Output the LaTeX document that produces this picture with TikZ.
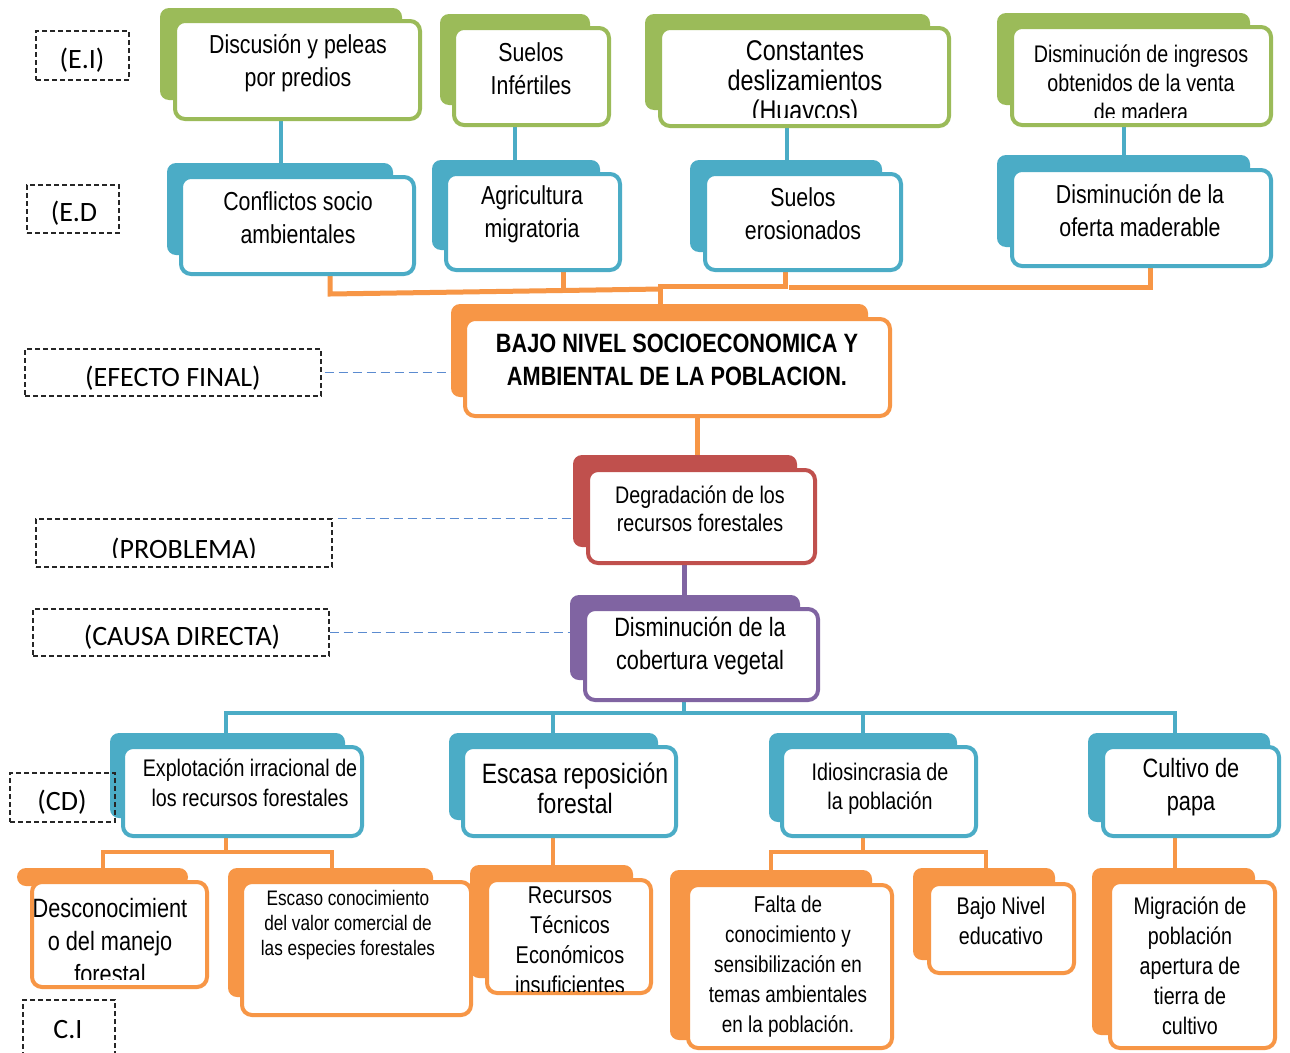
\documentclass[tikz,border=0pt]{standalone}
\usepackage{fontspec}
\setmainfont{Liberation Sans}
\newfontfamily\nf[FakeStretch=0.82]{Liberation Sans}
\newfontfamily\cf{Carlito}
\usetikzlibrary{fit,backgrounds}
\definecolor{cG}{HTML}{9BBB59}
\definecolor{cB}{HTML}{4BACC6}
\definecolor{cO}{HTML}{F79646}
\definecolor{cR}{HTML}{C0504D}
\definecolor{cP}{HTML}{8064A2}
\definecolor{cD}{HTML}{5B8BD0}
\newcommand\fs[2]{\fontsize{#1}{#2}\selectfont}
\tikzset{
  back/.style={fill=#1, rounded corners=9pt},
  front/.style={draw=#1, fill=white, line width=4pt, rounded corners=10pt, inner sep=0pt},
  tx/.style={align=center, inner sep=0pt, text=black, font=#1},
  lt/.style={inner sep=0pt, text=black, font=\cf\fs{28}{30}},
  lab/.style={draw=black!85, line width=1.1pt, dash pattern=on 5pt off 3pt, inner sep=0pt},
  lk/.style={draw=#1, line width=4.5pt},
  dl/.style={draw=cD, line width=1.8pt, dash pattern=on 9pt off 5pt},
}
\newcommand\pbox[4]{\fill[back=#2] #3; \node[front=#2, fit={#4}] (#1) {};}
\begin{document}
\begin{tikzpicture}[x=1pt,y=-1pt]
\useasboundingbox (0,0) rectangle (1290,1052);
\begin{pgfonlayer}{background}
\fill[white] (0,0) rectangle (1290,1052);
\end{pgfonlayer}
% x helper coordinates
\path (281,0) coordinate (k1) (515,0) coordinate (k2) (787,0) coordinate (k3) (1124,0) coordinate (k4)
      (330,0) coordinate (o1) (563,0) coordinate (o2) (785,0) coordinate (o3) (1150,0) coordinate (o4) (660,0) coordinate (o5)
      (697,0) coordinate (m1) (684,0) coordinate (m2)
      (226,0) coordinate (b1) (553,0) coordinate (b2) (863,0) coordinate (b3) (1175,0) coordinate (b4)
      (103,0) coordinate (p1) (332,0) coordinate (p2) (771,0) coordinate (p3) (986,0) coordinate (p4);

% ---------- boxes ----------
\pbox{di}{cG}{(160,8) rectangle (402,100)}{(175,21)(420,119)}
\pbox{su}{cG}{(440,14) rectangle (590,105)}{(454,28)(609,125)}
\pbox{cn}{cG}{(645,14) rectangle (930,110)}{(660,28)(949,126)}
\pbox{dm}{cG}{(997,13) rectangle (1250,105)}{(1012,27)(1271,125)}

\pbox{cf}{cB}{(167,163) rectangle (393,255)}{(181,177)(414,274)}
\pbox{ag}{cB}{(432,160) rectangle (600,250)}{(446,174)(620,270)}
\pbox{se}{cB}{(690,160) rectangle (882,252)}{(705,174)(901,270)}
\pbox{do}{cB}{(997,155) rectangle (1250,247)}{(1012,170)(1271,266)}

\pbox{fin}{cO}{(451,304) rectangle (868,397)}{(465,319)(890,416)}
\pbox{pr}{cR}{(573,455) rectangle (797,547)}{(588,470)(815,563)}
\pbox{pu}{cP}{(570,595) rectangle (800,680)}{(585,609)(818,700)}

\pbox{ex}{cB}{(110,733) rectangle (345,818)}{(123,747)(362,836)}
\pbox{es}{cB}{(449,733) rectangle (658,820)}{(463,747)(676,836)}
\pbox{id}{cB}{(769,733) rectangle (957,822)}{(782,747)(976,836)}
\pbox{cu}{cB}{(1088,733) rectangle (1270,822)}{(1103,747)(1279,836)}

\pbox{de}{cO}{(17,868) rectangle (188,886)}{(32,882)(207,987)}
\pbox{ec}{cO}{(228,868) rectangle (433,997)}{(242,882)(471,1015)}
\pbox{re}{cO}{(470,865) rectangle (633,978)}{(487,880)(651,993)}
\pbox{fa}{cO}{(670,870) rectangle (872,1040)}{(688,885)(892,1048)}
\pbox{bn}{cO}{(913,868) rectangle (1055,960)}{(929,884)(1074,973)}
\pbox{mi}{cO}{(1092,868) rectangle (1255,1035)}{(1110,882)(1275,1048)}

% ---------- texts ----------
\node[tx={\nf\fs{26}{33}}] (dit) at (298,63) {Discusión y peleas\\por predios};
\node[tx={\nf\fs{26}{33}}] (sut) at (531,69) {Suelos\\Infértiles};
\begin{scope}
\clip (660,28) rectangle (949,117);
\node[tx={\nf\fs{28.5}{30}}] (cnt) at (805,84) {Constantes\\deslizamientos\\(Huaycos)};
\end{scope}
\begin{scope}
\clip (1012,27) rectangle (1271,117);
\node[tx={\nf\fs{24}{29}}] (dmt) at (1141,83) {Disminución de ingresos\\obtenidos de la venta\\de madera};
\end{scope}
\node[tx={\nf\fs{26}{33}}] (cft) at (298,218) {Conflictos socio\\ambientales};
\node[tx={\nf\fs{26}{33}}] (agt) at (532,214) {Agricultura\\migratoria};
\node[tx={\nf\fs{26}{33}}] (set) at (803,214) {Suelos\\erosionados};
\node[tx={\nf\fs{26}{33}}] (dot) at (1140,211) {Disminución de la\\oferta maderable};
\node[tx={\nf\bfseries\fs{26.5}{33}}] (fint) at (677,360) {BAJO NIVEL SOCIOECONOMICA Y\\AMBIENTAL DE LA POBLACION.};
\node[tx={\nf\fs{24}{28}}] (prt) at (700,509) {Degradación de los\\recursos forestales};
\node[tx={\nf\fs{26.5}{33}}] (put) at (700,646) {Disminución de la\\cobertura vegetal};
\node[tx={\nf\fs{24}{30}}] (ext) at (250,783) {Explotación irracional de\\los recursos forestales};
\node[tx={\nf\fs{28}{30}}] (est) at (575,788) {Escasa reposición\\forestal};
\node[tx={\nf\fs{24}{29}}] (idt) at (880,789) {Idiosincrasia de\\la población};
\node[tx={\nf\fs{26.5}{33}}] (cut) at (1191,787) {Cultivo de\\papa};
\begin{scope}
\clip (32,882) rectangle (207,979);
\node[tx={\nf\fs{26.5}{33}}] (det) at (110,941) {Desconocimient\\o del manejo\\forestal};
\end{scope}
\node[tx={\nf\fs{21}{25}}] (ect) at (348,925) {Escaso conocimiento\\del valor comercial de\\las especies forestales};
\begin{scope}
\clip (487,880) rectangle (651,991);
\node[tx={\nf\fs{24.3}{30}}] (ret) at (570,940) {Recursos\\Técnicos\\Económicos\\insuficientes};
\end{scope}
\node[tx={\nf\fs{23}{30}}] (fat) at (788,967) {Falta de\\conocimiento y\\sensibilización en\\temas ambientales\\en la población.};
\node[tx={\nf\fs{24}{30}}] (bnt) at (1001,921) {Bajo Nivel\\educativo};
\node[tx={\nf\fs{24}{30}}] (mit) at (1190,966) {Migración de\\población\\apertura de\\tierra de\\cultivo};

% ---------- labels ----------
\node[lab, fit={(36,31)(129,80)}] (lei) {};
\node[lt] (leit) at (82,60) {(E.I)};
\node[lab, fit={(27,185)(119,233)}] (led) {};
\node[lt] (ledt) at (74,213) {(E.D};
\node[lab, fit={(25,349)(321,396)}] (lef) {};
\node[lt] (left) at (173,378) {(EFECTO FINAL)};
\node[lab, fit={(36,519)(332,567)}] (lpr) {};
\begin{scope}
\clip (36,519) rectangle (332,557);
\node[lt] (lprt) at (184,550) {(PROBLEMA)};
\end{scope}
\node[lab, fit={(33,609)(329,656)}] (lca) {};
\node[lt] (lcat) at (182,637) {(CAUSA DIRECTA)};
\node[lab, fit={(10,773)(115,822)}] (lcd) {};
\node[lt] (lcdt) at (62,802) {(CD)};
\node[lab, fit={(23,1000)(115,1060)}] (lci) {};
\node[lt] (lcit) at (68,1030) {C.I};

% ---------- connectors ----------
\begin{pgfonlayer}{background}
\draw[lk=cB] (di.south -| k1) -- (cf.north -| k1);
\draw[lk=cB] (su.south -| k2) -- (ag.north -| k2);
\draw[lk=cB] (cn.south -| k3) -- (se.north -| k3);
\draw[lk=cB] (dm.south -| k4) -- (do.north -| k4);

\draw[lk=cO, line width=5pt] (cf.south -| o1) -- (330,294) -- (662,289);
\draw[lk=cO, line width=5pt] (ag.south -| o2) -- (563,291);
\draw[lk=cO, line width=5pt] (658,286) -- (785,286) -- (se.south -| o3);
\draw[lk=cO, line width=5pt] (789,287) -- (1150,287) -- (do.south -| o4);
\draw[lk=cO, line width=5pt] (660,286) -- (fin.north -| o5);

\draw[lk=cO, line width=5pt] (fin.south -| m1) -- (pr.north -| m1);
\draw[lk=cP, line width=5pt] (pr.south -| m2) -- (pu.north -| m2);

\draw[lk=cB] (pu.south -| m2) -- (684,713);
\draw[lk=cB] (ex.north -| b1) -- (226,713) -- (1175,713) -- (cu.north -| b4);
\draw[lk=cB] (es.north -| b2) -- (553,713);
\draw[lk=cB] (id.north -| b3) -- (863,713);

\draw[lk=cO] (ex.south -| b1) -- (226,852);
\draw[lk=cO] (de.north -| p1) -- (103,852) -- (332,852) -- (ec.north -| p2);
\draw[lk=cO] (es.south -| b2) -- (re.north -| b2);
\draw[lk=cO] (id.south -| b3) -- (863,852);
\draw[lk=cO] (fa.north -| p3) -- (771,852) -- (986,852) -- (bn.north -| p4);
\draw[lk=cO] (cu.south -| b4) -- (mi.north -| b4);

\draw[dl] ([xshift=3pt]lef.east) -- (lef.east -| fin.west);
\draw[dl] ([xshift=5pt]lpr.north east) -- (lpr.north east -| pr.west);
\draw[dl] (lca.east) -- ([xshift=-12pt]lca.east -| pu.west);
\end{pgfonlayer}
\end{tikzpicture}
\end{document}
